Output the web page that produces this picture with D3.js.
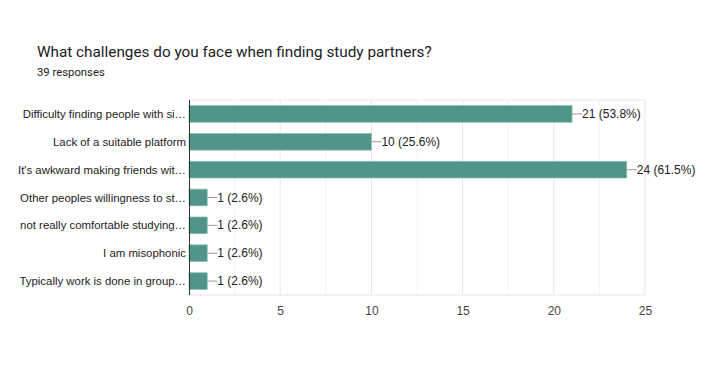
<!DOCTYPE html>
<html>
<head>
  <title>Study partners</title>
<script src="https://d3js.org/d3.v7.min.js"></script>
<style>
  body { margin: 0; background: #fff; }
</style>
</head>
<body>
<svg width="714" height="369"></svg>
<script>

var categories = [
  "Difficulty finding people with si\u2026",
  "Lack of a suitable platform",
  "It's awkward making friends wit\u2026",
  "Other peoples willingness to st\u2026",
  "not really comfortable studying\u2026",
  "I am misophonic",
  "Typically work is done in group\u2026"
];
var counts = [21, 10, 24, 1, 1, 1, 1];
var percents = ["53.8%", "25.6%", "61.5%", "2.6%", "2.6%", "2.6%", "2.6%"];
var tickValues = [0, 5, 10, 15, 20, 25];
var minorTicks = [2.5, 7.5, 12.5, 17.5, 22.5];

var svg = d3.select("svg");

svg.append("text")
    .attr("x", 37).attr("y", 57)
    .attr("font-family", "Roboto, sans-serif")
    .attr("font-size", 15.3)
    .attr("fill", "#202124")
    .text("What challenges do you face when finding study partners?");

svg.append("text")
    .attr("x", 37).attr("y", 76)
    .attr("font-family", "Roboto, sans-serif")
    .attr("font-size", 11.3)
    .attr("fill", "#202124")
    .text("39 responses");

var x = d3.scaleLinear().domain([0, 25]).range([189, 645]);
var y = d3.scaleBand().domain(categories).range([100, 295]).paddingInner(0.4).paddingOuter(0.2);

var g = svg.append("g").attr("font-family", "Arial, 'Liberation Sans', sans-serif").attr("font-size", 12);

// minor grid
g.selectAll(".minor").data(minorTicks).enter().append("line")
    .attr("x1", x).attr("x2", x).attr("y1", 100).attr("y2", 295)
    .attr("stroke", "#f3f3f3");

// major grid
g.selectAll(".major").data(tickValues.slice(1)).enter().append("line")
    .attr("x1", x).attr("x2", x).attr("y1", 100).attr("y2", 295)
    .attr("stroke", "#e6e6e6");

g.append("line").attr("x1", 189).attr("x2", 645).attr("y1", 100).attr("y2", 100).attr("stroke", "#e6e6e6");
g.append("line").attr("x1", 189).attr("x2", 645).attr("y1", 295).attr("y2", 295).attr("stroke", "#e6e6e6");

// bars
g.selectAll(".bar").data(counts).enter().append("rect")
    .attr("x", x(0))
    .attr("y", function(d, i) { return y(categories[i]); })
    .attr("width", function(d) { return x(d) - x(0); })
    .attr("height", y.bandwidth())
    .attr("fill", "#51958a")
    .attr("stroke", "#8fc1b7")
    .attr("stroke-width", 0.8);

// zero axis
g.append("line").attr("x1", 189.5).attr("x2", 189.5).attr("y1", 100).attr("y2", 295).attr("stroke", "#333");

// leader lines + value labels
counts.forEach(function(d, i) {
  var cy = y(categories[i]) + y.bandwidth() / 2;
  g.append("line")
      .attr("x1", x(d)).attr("x2", x(d) + 10)
      .attr("y1", cy).attr("y2", cy)
      .attr("stroke", "#999");
  g.append("text")
      .attr("x", x(d) + 10).attr("y", cy + 4)
      .attr("fill", "#222")
      .text(d + " (" + percents[i] + ")");
});

// category labels
g.selectAll(".cat").data(categories).enter().append("text")
    .attr("x", 186)
    .attr("y", function(d) { return y(d) + y.bandwidth() / 2 + 4; })
    .attr("text-anchor", "end")
    .attr("font-size", 11.4)
    .attr("fill", "#222")
    .text(function(d) { return d; });

// x axis labels
var axis = d3.axisBottom(x).tickValues(tickValues).tickSize(0).tickPadding(11);
var ax = svg.append("g").attr("transform", "translate(0,295)").call(axis);
ax.select(".domain").remove();
ax.selectAll("text")
    .attr("font-family", "Arial, 'Liberation Sans', sans-serif")
    .attr("font-size", 12)
    .attr("fill", "#444");

</script>
</body>
</html>
